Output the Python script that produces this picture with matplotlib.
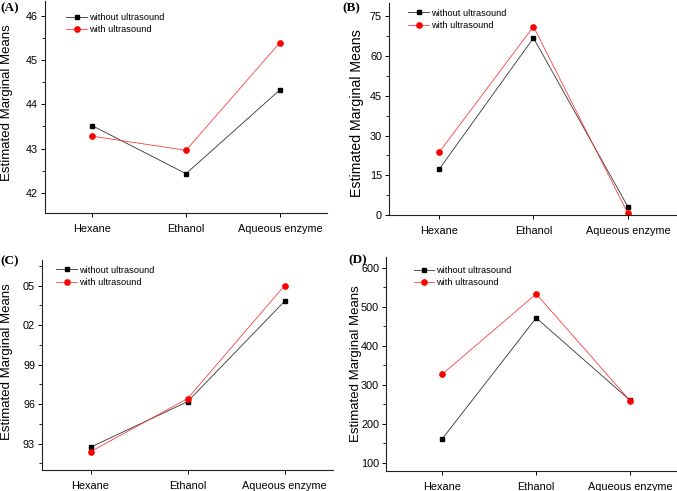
import matplotlib
matplotlib.use("Agg")
import matplotlib.pyplot as plt
from matplotlib.ticker import MultipleLocator, FixedLocator

plt.rcParams['font.family'] = ['Liberation Sans', 'DejaVu Sans']

solvents = ["Hexane", "Ethanol", "Aqueous enzyme"]
series_names = ["without ultrasound", "with ultrasound"]

a_without = [43.52, 42.43, 44.33]
a_with = [43.28, 42.96, 45.40]

b_without = [17.2, 66.8, 3.1]
b_with = [23.6, 71.1, 0.6]

c_without = [92.73, 96.19, 103.81]
c_with = [92.39, 96.42, 105.0]
c_ticks = [93, 96, 99, 102, 105]
c_ticklabels = ["93", "96", "99", "02", "05"]

d_without = [161.6, 471.0, 260.0]
d_with = [327.0, 532.5, 259.0]

W, H = 677, 491
fig = plt.figure(figsize=(W / 100, H / 100), dpi=100)


def px_axes(left, right, top, bottom):
    # pixel box -> figure fraction
    return fig.add_axes([left / W, 1 - bottom / H, (right - left) / W, (bottom - top) / H])


def draw_panel(ax, y0, y1, ylim, major, minor, legend_px, xlim=(-0.5, 2.5), ylabel_size=9.5):
    x = range(len(solvents))
    ax.plot(x, y0, color='#333333', lw=0.6, marker='s', ms=3.0,
            mfc='black', mec='black', label=series_names[0])
    ax.plot(x, y1, color='#ff3030', lw=0.55, marker='o', ms=3.8,
            mfc='red', mec='red', label=series_names[1])
    ax.set_xlim(*xlim)
    ax.set_ylim(*ylim)
    ax.set_xticks(list(x))
    ax.set_xticklabels(solvents, fontsize=7.6)
    ax.yaxis.set_major_locator(major)
    ax.yaxis.set_minor_locator(minor)
    ax.tick_params(axis='both', direction='out', length=3, width=0.7, labelsize=7.8, pad=2)
    ax.tick_params(axis='y', which='minor', direction='out', length=2, width=0.6)
    ax.tick_params(axis='x', pad=5)
    for s in ('top', 'right'):
        ax.spines[s].set_visible(False)
    for s in ('left', 'bottom'):
        ax.spines[s].set_linewidth(0.8)
        ax.spines[s].set_color('#222222')
    lx, ly = legend_px
    ax.legend(frameon=False, loc='upper left', bbox_to_anchor=(lx / W, 1 - ly / H),
              bbox_transform=fig.transFigure,
              fontsize=6.7, handlelength=2.2, handletextpad=0.2,
              borderpad=0, borderaxespad=0, labelspacing=0.33)
    ax.set_ylabel("Estimated Marginal Means", fontsize=ylabel_size)
    return ax


ax_a = px_axes(45, 327, 1, 213)
draw_panel(ax_a, a_without, a_with, (41.54, 46.34),
           MultipleLocator(1), MultipleLocator(0.5), (66.3, 13.1))
ax_a.yaxis.set_label_coords(-32 / 282, 0.521)

ax_b = px_axes(389, 677, 3, 215)
draw_panel(ax_b, b_without, b_with, (0, 80),
           MultipleLocator(15), MultipleLocator(7.5), (408.3, 8.7),
           xlim=(-0.53, 2.52), ylabel_size=10.2)
ax_b.yaxis.set_label_coords(-25 / 288, 0.479)

ax_c = px_axes(42, 333, 260, 470)
draw_panel(ax_c, c_without, c_with, (91.0, 106.95),
           FixedLocator(c_ticks), MultipleLocator(1.5), (56.3, 265.7))
ax_c.set_yticklabels(c_ticklabels)
ax_c.yaxis.set_label_coords(-29 / 291, 0.517)

ax_d = px_axes(386, 677, 257, 471)
draw_panel(ax_d, d_without, d_with, (79, 627),
           MultipleLocator(100), MultipleLocator(50), (414, 266.4),
           xlim=(-0.6, 2.5))
ax_d.yaxis.set_label_coords(-24 / 291, 0.5)

panel_font = dict(fontsize=9.5, fontweight='bold', family='Liberation Serif')
fig.text(0 / W, 1 - 8 / H, "(A)", va='center', ha='left', **panel_font)
fig.text(342 / W, 1 - 8 / H, "(B)", va='center', ha='left', **panel_font)
fig.text(0 / W, 1 - 261 / H, "(C)", va='center', ha='left', **panel_font)
fig.text(348 / W, 1 - 260 / H, "(D)", va='center', ha='left', **panel_font)

fig.savefig("out.png", dpi=100)
